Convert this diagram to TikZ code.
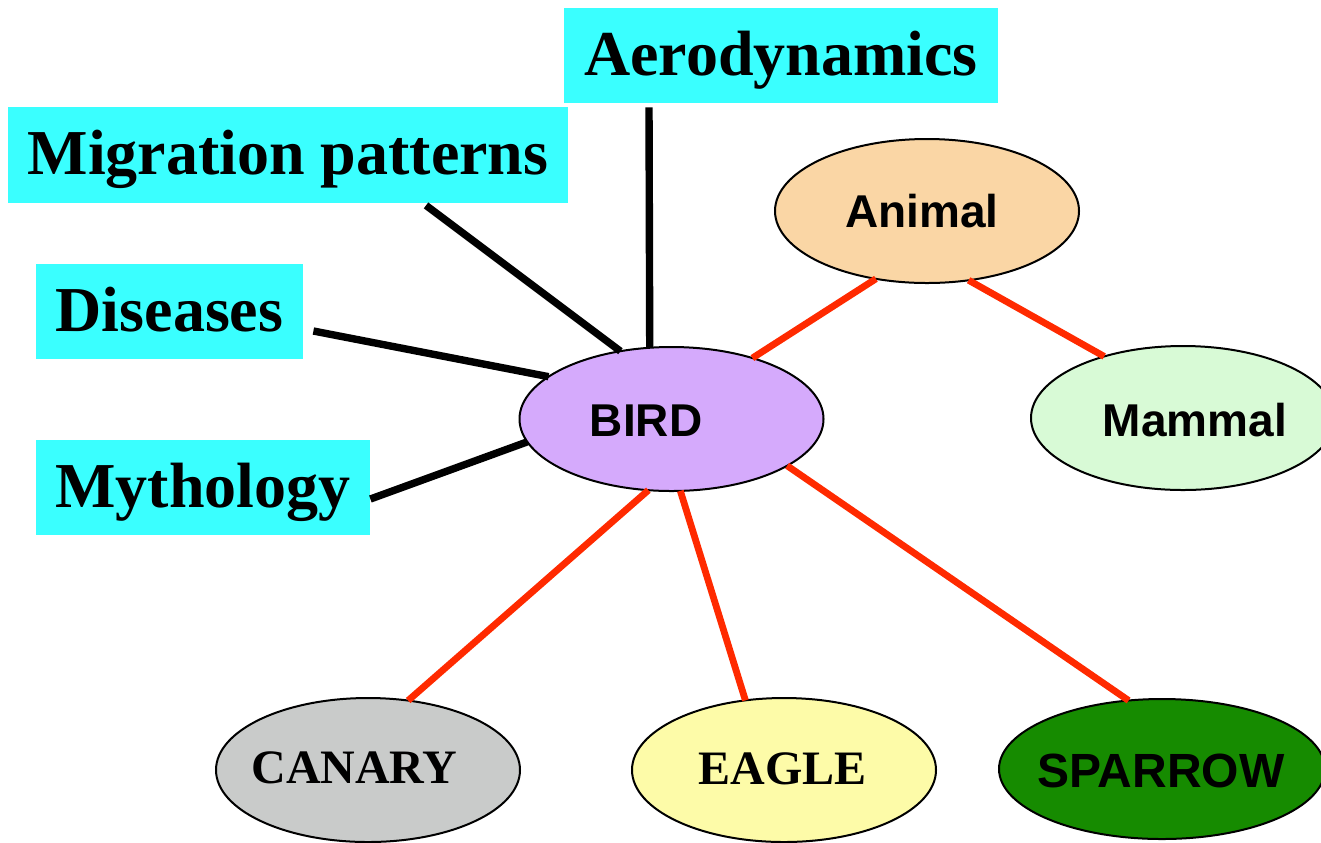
\documentclass[tikz,border=0pt]{standalone}
\usepackage{fontspec}
\setmainfont{Liberation Serif}
\newfontfamily\labelsans{Liberation Sans}
\usetikzlibrary{shapes.geometric}

\definecolor{topiccyan}{RGB}{58,255,255}
\definecolor{birdfill}{RGB}{213,170,252}
\definecolor{animalfill}{RGB}{250,214,165}
\definecolor{mammalfill}{RGB}{216,250,214}
\definecolor{canaryfill}{RGB}{201,203,202}
\definecolor{eaglefill}{RGB}{253,251,168}
\definecolor{sparrowfill}{RGB}{22,139,0}
\definecolor{isared}{RGB}{255,42,0}

\tikzset{
  topicbox/.style={rectangle, fill=topiccyan, inner sep=0pt, minimum height=47.5pt,
    text height=19.5pt, text depth=0pt,
    font=\fontsize{32}{36}\selectfont\bfseries},
  concept/.style={ellipse, draw=black, line width=1pt, inner sep=0pt, outer sep=0pt,
    minimum width=152pt, minimum height=72pt},
  sanslabel/.style={anchor=base, inner sep=0pt, font=\labelsans\fontsize{23}{26}\selectfont\bfseries},
  seriflabel/.style={anchor=base, inner sep=0pt, font=\fontsize{24}{28}\selectfont\bfseries},
  aboutlink/.style={draw=black, line width=3.7pt},
  isalink/.style={draw=isared, line width=3.4pt}
}

\begin{document}
\begin{tikzpicture}[x=0.5pt, y=-0.5pt]
  \useasboundingbox (0,0) rectangle (1321,842);

  % topics attached to the BIRD concept
  \node[topicbox, minimum width=217pt] (aero) at (781,55.5) {Aerodynamics};
  \node[topicbox, minimum width=280pt, minimum height=48pt] (migr) at (288,155) {Migration patterns};
  \node[topicbox, minimum width=133.5pt] (dis) at (169.5,311.5) {Diseases};
  \node[topicbox, minimum width=167pt] (myth) at (203,487.5) {Mythology};

  % concept hierarchy
  \node[concept, fill=birdfill] (bird) at (671.5,419) {};
  \node[concept, fill=animalfill] (animal) at (927,211) {};
  \node[concept, fill=mammalfill] (mammal) at (1183,418) {};
  \node[concept, fill=canaryfill] (canary) at (368,770) {};
  \node[concept, fill=eaglefill] (eagle) at (784,770) {};
  \node[concept, fill=sparrowfill, minimum width=163pt, minimum height=70pt] (sparrow) at (1162,769) {};

  \node[sanslabel] (birdtxt) at (646,436) {BIRD};
  \node[sanslabel] (animaltxt) at (922,227) {Animal};
  \node[sanslabel] (mammaltxt) at (1195,436) {Mammal};
  \node[seriflabel] (canarytxt) at (354.5,783) {CANARY};
  \node[seriflabel] (eagletxt) at (782.5,784) {EAGLE};
  \node[sanslabel, font=\labelsans\fontsize{24}{28}\selectfont\bfseries] (sparrowtxt) at (1161,787) {SPARROW};

  % topic links
  \draw[aboutlink] ([xshift=-66pt,yshift=-2pt]aero.south) -- (bird.107.9);
  \draw[aboutlink] ([xshift=69pt,yshift=-1pt]migr.south) -- (bird.127.5);
  \draw[aboutlink] ([xshift=5pt,yshift=-9.75pt]dis.east) -- (bird.161.6);
  \draw[aboutlink] ([yshift=-5.75pt]myth.east) -- (bird.189);

  % is-a links
  \draw[isalink] (animal.-127.4) -- (bird.37.6);
  \draw[isalink] (animal.-59.7) -- (mammal.142.4);
  \draw[isalink] (bird.-108.4) -- (canary.60.9);
  \draw[isalink] (bird.-83.7) -- (eagle.119.1);
  \draw[isalink] (bird.-22.2) -- (sparrow.116.2);
\end{tikzpicture}
\end{document}
